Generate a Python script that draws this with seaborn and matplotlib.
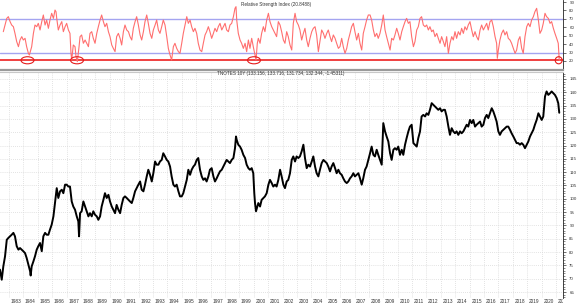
import matplotlib
matplotlib.use("Agg")
import matplotlib.pyplot as plt
from matplotlib.patches import Ellipse
from matplotlib.transforms import ScaledTranslation, Bbox, TransformedBbox
import seaborn as sns
import numpy as np

# ---------------- data ----------------
price_years = [
    1982.38, 1982.50, 1982.61, 1982.73, 1982.85, 1982.96, 1983.08, 1983.19, 1983.31, 1983.42,
    1983.54, 1983.66, 1983.77, 1983.89, 1984.00, 1984.12, 1984.23, 1984.35, 1984.47, 1984.51,
    1984.58, 1984.70, 1984.81, 1984.93, 1985.04, 1985.16, 1985.28, 1985.39, 1985.51, 1985.62,
    1985.74, 1985.85, 1985.97, 1986.09, 1986.20, 1986.32, 1986.43, 1986.55, 1986.67, 1986.78,
    1986.90, 1987.01, 1987.13, 1987.24, 1987.36, 1987.47, 1987.59, 1987.71, 1987.82, 1987.87,
    1987.94, 1988.05, 1988.17, 1988.29, 1988.40, 1988.52, 1988.63, 1988.75, 1988.86, 1988.98,
    1989.10, 1989.21, 1989.33, 1989.44, 1989.56, 1989.67, 1989.79, 1989.91, 1990.02, 1990.14,
    1990.25, 1990.37, 1990.48, 1990.60, 1990.72, 1990.83, 1990.95, 1991.06, 1991.18, 1991.30,
    1991.41, 1991.53, 1991.64, 1991.76, 1991.87, 1991.99, 1992.11, 1992.22, 1992.34, 1992.45,
    1992.57, 1992.68, 1992.80, 1992.92, 1993.03, 1993.15, 1993.26, 1993.38, 1993.49, 1993.61,
    1993.72, 1993.84, 1993.96, 1994.07, 1994.19, 1994.30, 1994.42, 1994.53, 1994.65, 1994.77,
    1994.88, 1995.00, 1995.11, 1995.23, 1995.35, 1995.46, 1995.58, 1995.69, 1995.81, 1995.92,
    1996.04, 1996.15, 1996.27, 1996.39, 1996.50, 1996.62, 1996.73, 1996.85, 1996.96, 1997.08,
    1997.20, 1997.31, 1997.43, 1997.54, 1997.66, 1997.78, 1997.89, 1998.01, 1998.12, 1998.24,
    1998.35, 1998.47, 1998.59, 1998.70, 1998.77, 1998.82, 1998.93, 1999.05, 1999.16, 1999.28,
    1999.40, 1999.51, 1999.63, 1999.74, 1999.86, 1999.97, 2000.04, 2000.09, 2000.16, 2000.32,
    2000.44, 2000.55, 2000.67, 2000.78, 2000.90, 2001.02, 2001.13, 2001.25, 2001.36, 2001.48,
    2001.59, 2001.71, 2001.83, 2001.94, 2002.06, 2002.17, 2002.29, 2002.40, 2002.52, 2002.64,
    2002.75, 2002.87, 2002.98, 2003.10, 2003.21, 2003.33, 2003.45, 2003.56, 2003.68, 2003.79,
    2003.91, 2004.03, 2004.14, 2004.26, 2004.37, 2004.49, 2004.60, 2004.72, 2004.84, 2004.95,
    2005.07, 2005.18, 2005.30, 2005.41, 2005.53, 2005.65, 2005.76, 2005.88, 2005.99, 2006.11,
    2006.22, 2006.34, 2006.46, 2006.57, 2006.69, 2006.80, 2006.92, 2007.03, 2007.15, 2007.27,
    2007.38, 2007.50, 2007.61, 2007.73, 2007.84, 2007.96, 2008.08, 2008.19, 2008.31, 2008.42,
    2008.54, 2008.65, 2008.77, 2008.89, 2009.00, 2009.12, 2009.23, 2009.35, 2009.47, 2009.58,
    2009.70, 2009.81, 2009.93, 2010.04, 2010.16, 2010.28, 2010.39, 2010.51, 2010.62, 2010.74,
    2010.85, 2010.97, 2011.09, 2011.20, 2011.32, 2011.43, 2011.55, 2011.66, 2011.78, 2011.90,
    2012.01, 2012.13, 2012.24, 2012.36, 2012.47, 2012.59, 2012.71, 2012.82, 2012.94, 2013.05,
    2013.17, 2013.28, 2013.40, 2013.52, 2013.63, 2013.75, 2013.86, 2013.98, 2014.09, 2014.21,
    2014.33, 2014.44, 2014.56, 2014.67, 2014.79, 2014.90, 2015.02, 2015.14, 2015.25, 2015.37,
    2015.48, 2015.60, 2015.72, 2015.83, 2015.95, 2016.06, 2016.18, 2016.29, 2016.41, 2016.53,
    2016.64, 2016.76, 2016.87, 2016.99, 2017.10, 2017.22, 2017.34, 2017.45, 2017.57, 2017.68,
    2017.80, 2017.91, 2018.03, 2018.15, 2018.26, 2018.38, 2018.49, 2018.61, 2018.72, 2018.84,
    2018.96, 2019.07, 2019.19, 2019.30, 2019.42, 2019.53, 2019.65, 2019.77, 2019.88, 2020.00,
    2020.11, 2020.23, 2020.34, 2020.46, 2020.58, 2020.69, 2020.81, 2020.92, 2021.04, 2021.15,
    2021.22,
]
price_values = [
    73.4, 69.6, 74.6, 78.4, 84.6, 85.3, 85.9, 86.5, 87.2, 85.9,
    82.2, 80.9, 81.5, 80.9, 80.3, 79.6, 77.8, 75.3, 72.8, 71.2,
    74.6, 76.5, 78.4, 80.9, 82.2, 83.4, 80.3, 85.9, 87.2, 86.5,
    86.5, 88.4, 90.3, 93.4, 98.4, 104.0, 100.3, 102.8, 103.4, 102.1,
    105.3, 105.3, 104.6, 104.6, 99.0, 97.1, 95.9, 93.4, 91.5, 85.9,
    94.6, 95.3, 99.0, 97.1, 95.3, 93.4, 94.6, 93.4, 95.3, 94.0,
    93.4, 92.1, 93.4, 97.1, 99.6, 102.1, 100.3, 101.5, 99.0, 97.1,
    95.9, 94.6, 97.7, 95.9, 94.6, 97.7, 100.3, 100.9, 100.3, 99.6,
    99.0, 98.4, 100.3, 102.8, 104.0, 105.3, 106.5, 103.4, 102.8, 105.3,
    108.4, 110.9, 109.0, 106.5, 109.6, 114.0, 112.8, 112.8, 114.0, 114.6,
    117.1, 115.9, 114.6, 114.0, 112.1, 108.4, 105.3, 104.6, 105.3, 102.8,
    100.9, 100.9, 102.1, 104.6, 107.1, 110.9, 109.0, 110.9, 112.1, 112.8,
    114.6, 115.3, 110.9, 108.4, 107.1, 107.7, 106.5, 108.4, 110.9, 111.5,
    108.4, 106.5, 107.7, 109.0, 110.3, 110.9, 112.1, 113.4, 114.6, 114.0,
    113.4, 114.6, 115.3, 119.0, 123.4, 122.1, 120.3, 119.6, 118.4, 116.5,
    115.3, 112.8, 111.5, 110.9, 111.5, 109.6, 102.1, 98.4, 95.3, 98.4,
    97.1, 99.6, 100.3, 100.9, 102.1, 105.3, 107.1, 105.9, 104.6, 105.3,
    104.6, 107.1, 110.9, 108.4, 105.3, 104.0, 106.5, 107.1, 109.6, 114.6,
    115.9, 114.0, 115.9, 115.3, 115.9, 117.8, 120.3, 115.3, 111.5, 112.8,
    112.1, 114.0, 115.9, 112.1, 109.6, 108.4, 110.9, 113.4, 114.6, 114.0,
    113.4, 112.1, 110.3, 112.1, 113.4, 111.5, 109.6, 110.9, 109.6, 109.0,
    107.7, 106.5, 105.9, 106.5, 107.7, 108.4, 109.6, 108.4, 109.0, 109.6,
    107.7, 105.3, 107.7, 110.9, 112.1, 114.6, 117.1, 119.6, 116.5, 115.9,
    118.4, 116.5, 114.6, 112.8, 128.4, 125.3, 123.4, 121.5, 117.1, 114.6,
    118.4, 119.0, 118.4, 119.6, 116.5, 118.4, 116.5, 120.3, 122.8, 125.3,
    127.1, 127.8, 120.9, 120.3, 119.6, 122.8, 125.3, 130.9, 131.5, 130.9,
    132.1, 131.5, 133.4, 135.9, 135.3, 134.6, 134.0, 133.4, 134.0, 132.8,
    133.4, 133.4, 130.9, 127.1, 124.0, 126.5, 125.3, 124.6, 125.3, 124.0,
    125.3, 124.6, 125.3, 126.5, 127.8, 127.1, 129.6, 128.4, 129.6, 127.1,
    127.8, 128.4, 129.0, 127.1, 127.8, 130.3, 131.5, 130.3, 132.1, 134.0,
    132.8, 130.9, 129.0, 125.3, 124.0, 125.3, 125.9, 126.5, 127.1, 127.1,
    125.9, 124.6, 123.4, 122.1, 120.9, 120.9, 120.3, 120.9, 120.3, 119.0,
    120.3, 121.5, 123.4, 124.6, 125.9, 127.8, 129.6, 132.1, 130.9, 129.6,
    130.9, 138.4, 140.3, 139.0, 139.6, 140.3, 139.6, 139.0, 137.8, 135.9,
    132.3,
]

rsi_years = [
    1982.61, 1982.73, 1982.85, 1982.96, 1983.08, 1983.19, 1983.31, 1983.42, 1983.54, 1983.66,
    1983.77, 1983.89, 1984.00, 1984.12, 1984.23, 1984.35, 1984.42, 1984.58, 1984.70, 1984.81,
    1984.93, 1985.04, 1985.16, 1985.28, 1985.39, 1985.51, 1985.62, 1985.74, 1985.85, 1985.97,
    1986.09, 1986.20, 1986.27, 1986.32, 1986.43, 1986.55, 1986.67, 1986.78, 1986.90, 1987.01,
    1987.13, 1987.24, 1987.31, 1987.36, 1987.47, 1987.59, 1987.66, 1987.75, 1987.87, 1987.94,
    1988.05, 1988.17, 1988.29, 1988.40, 1988.52, 1988.63, 1988.75, 1988.86, 1988.98, 1989.10,
    1989.21, 1989.33, 1989.44, 1989.56, 1989.67, 1989.79, 1989.91, 1990.02, 1990.14, 1990.25,
    1990.37, 1990.48, 1990.60, 1990.72, 1990.83, 1990.95, 1991.06, 1991.18, 1991.30, 1991.41,
    1991.53, 1991.64, 1991.76, 1991.87, 1991.99, 1992.11, 1992.22, 1992.34, 1992.45, 1992.57,
    1992.68, 1992.80, 1992.92, 1993.03, 1993.15, 1993.26, 1993.38, 1993.49, 1993.61, 1993.72,
    1993.84, 1993.96, 1994.07, 1994.19, 1994.30, 1994.42, 1994.53, 1994.65, 1994.77, 1994.88,
    1995.00, 1995.11, 1995.23, 1995.35, 1995.46, 1995.58, 1995.69, 1995.81, 1995.92, 1996.04,
    1996.15, 1996.27, 1996.39, 1996.50, 1996.62, 1996.73, 1996.85, 1996.96, 1997.08, 1997.20,
    1997.31, 1997.43, 1997.54, 1997.66, 1997.78, 1997.89, 1998.01, 1998.12, 1998.24, 1998.35,
    1998.47, 1998.59, 1998.70, 1998.77, 1998.82, 1998.93, 1999.05, 1999.16, 1999.28, 1999.40,
    1999.51, 1999.63, 1999.74, 1999.86, 1999.97, 2000.09, 2000.16, 2000.25, 2000.32, 2000.44,
    2000.55, 2000.67, 2000.78, 2000.90, 2001.02, 2001.13, 2001.25, 2001.36, 2001.48, 2001.59,
    2001.71, 2001.83, 2001.94, 2002.06, 2002.17, 2002.29, 2002.40, 2002.52, 2002.64, 2002.75,
    2002.87, 2002.98, 2003.10, 2003.21, 2003.33, 2003.45, 2003.56, 2003.68, 2003.79, 2003.91,
    2004.03, 2004.14, 2004.26, 2004.37, 2004.49, 2004.60, 2004.72, 2004.84, 2004.95, 2005.07,
    2005.18, 2005.30, 2005.41, 2005.53, 2005.65, 2005.76, 2005.88, 2005.99, 2006.11, 2006.22,
    2006.34, 2006.46, 2006.57, 2006.69, 2006.80, 2006.92, 2007.03, 2007.15, 2007.27, 2007.38,
    2007.50, 2007.61, 2007.73, 2007.84, 2007.96, 2008.08, 2008.19, 2008.31, 2008.42, 2008.54,
    2008.65, 2008.77, 2008.89, 2009.00, 2009.12, 2009.23, 2009.35, 2009.47, 2009.58, 2009.70,
    2009.81, 2009.93, 2010.04, 2010.16, 2010.28, 2010.39, 2010.51, 2010.62, 2010.74, 2010.85,
    2010.97, 2011.09, 2011.20, 2011.32, 2011.43, 2011.55, 2011.66, 2011.78, 2011.90, 2012.01,
    2012.13, 2012.24, 2012.36, 2012.47, 2012.59, 2012.71, 2012.82, 2012.94, 2013.05, 2013.17,
    2013.28, 2013.40, 2013.52, 2013.63, 2013.75, 2013.86, 2013.98, 2014.09, 2014.21, 2014.33,
    2014.44, 2014.56, 2014.67, 2014.79, 2014.90, 2015.02, 2015.14, 2015.25, 2015.37, 2015.48,
    2015.60, 2015.72, 2015.83, 2015.95, 2016.06, 2016.18, 2016.29, 2016.41, 2016.53, 2016.64,
    2016.76, 2016.87, 2016.92, 2016.99, 2017.10, 2017.22, 2017.34, 2017.45, 2017.57, 2017.68,
    2017.80, 2017.91, 2018.03, 2018.15, 2018.26, 2018.38, 2018.49, 2018.61, 2018.72, 2018.84,
    2018.96, 2019.07, 2019.19, 2019.30, 2019.42, 2019.53, 2019.65, 2019.77, 2019.88, 2020.00,
    2020.11, 2020.23, 2020.34, 2020.46, 2020.58, 2020.69, 2020.81, 2020.92, 2021.04, 2021.15,
    2021.22,
]
rsi_values = [
    54.8, 62.7, 70.6, 72.6, 66.7, 62.7, 60.7, 52.8, 43.0, 37.0,
    44.9, 48.9, 44.9, 46.9, 37.0, 29.1, 27.1, 37.0, 52.8, 62.7,
    60.7, 64.7, 56.8, 66.7, 74.6, 62.7, 68.6, 58.8, 68.6, 76.6,
    70.6, 80.5, 78.5, 70.6, 56.8, 62.7, 66.7, 54.8, 60.7, 64.7,
    56.8, 52.8, 29.1, 21.2, 39.0, 37.0, 25.2, 19.2, 37.0, 48.9,
    50.9, 41.0, 44.9, 41.0, 37.0, 52.8, 54.8, 46.9, 41.0, 52.8,
    60.7, 68.6, 74.6, 66.7, 60.7, 64.7, 54.8, 48.9, 39.0, 35.0,
    31.1, 48.9, 52.8, 46.9, 39.0, 54.8, 62.7, 56.8, 54.8, 48.9,
    44.9, 58.8, 66.7, 72.6, 62.7, 50.9, 44.9, 54.8, 66.7, 74.6,
    64.7, 52.8, 46.9, 56.8, 62.7, 68.6, 56.8, 52.8, 60.7, 68.6,
    62.7, 48.9, 35.0, 27.1, 21.2, 37.0, 41.0, 35.0, 31.1, 29.1,
    41.0, 52.8, 62.7, 72.6, 64.7, 68.6, 60.7, 54.8, 58.8, 52.8,
    41.0, 33.0, 31.1, 41.0, 50.9, 54.8, 60.7, 54.8, 46.9, 52.8,
    58.8, 54.8, 60.7, 64.7, 56.8, 60.7, 64.7, 56.8, 54.8, 62.7,
    64.7, 72.6, 82.5, 84.5, 68.6, 52.8, 44.9, 41.0, 35.0, 41.0,
    31.1, 44.9, 35.0, 46.9, 37.0, 27.1, 21.2, 41.0, 46.9, 41.0,
    52.8, 60.7, 54.8, 68.6, 76.6, 66.7, 60.7, 56.8, 52.8, 48.9,
    66.7, 62.7, 54.8, 44.9, 41.0, 54.8, 48.9, 39.0, 33.0, 64.7,
    76.6, 66.7, 62.7, 56.8, 44.9, 52.8, 58.8, 44.9, 37.0, 46.9,
    54.8, 58.8, 60.7, 50.9, 31.1, 43.0, 56.8, 52.8, 46.9, 52.8,
    56.8, 48.9, 43.0, 50.9, 46.9, 41.0, 35.0, 37.0, 46.9, 37.0,
    29.1, 35.0, 44.9, 52.8, 60.7, 64.7, 54.8, 44.9, 52.8, 41.0,
    33.0, 52.8, 60.7, 68.6, 74.6, 74.6, 68.6, 56.8, 48.9, 52.8,
    46.9, 52.8, 62.7, 74.6, 56.8, 48.9, 41.0, 33.0, 46.9, 44.9,
    50.9, 58.8, 52.8, 44.9, 54.8, 60.7, 66.7, 70.6, 64.7, 66.7,
    48.9, 37.0, 43.0, 56.8, 60.7, 70.6, 72.6, 62.7, 60.7, 62.7,
    56.8, 60.7, 54.8, 56.8, 48.9, 52.8, 46.9, 41.0, 48.9, 43.0,
    37.0, 48.9, 29.1, 41.0, 48.9, 44.9, 54.8, 46.9, 54.8, 50.9,
    58.8, 52.8, 60.7, 56.8, 62.7, 66.7, 56.8, 48.9, 54.8, 48.9,
    44.9, 56.8, 62.7, 56.8, 60.7, 64.7, 56.8, 66.7, 68.6, 60.7,
    48.9, 41.0, 23.2, 33.0, 44.9, 52.8, 56.8, 50.9, 54.8, 46.9,
    44.9, 41.0, 35.0, 29.1, 33.0, 44.9, 48.9, 35.0, 29.1, 48.9,
    60.7, 64.7, 60.7, 68.6, 72.6, 78.5, 82.5, 68.6, 52.8, 56.8,
    64.7, 76.6, 72.6, 70.6, 64.7, 66.7, 58.8, 52.8, 46.9, 41.0,
    20.8,
]

rsi_levels = [70, 30]
rsi_current = 20.8488
circle_years = [1984.29, 1987.73, 2000.02, 2021.18]
circle_widths = [0.9, 0.9, 0.9, 0.48]

year_ticks = list(range(1983, 2022))
price_ticks = list(range(65, 150, 5))
rsi_ticks = list(range(20, 100, 10))

rsi_title = "Relative Strength Index (20.8488)"
price_title = "TNOTES 10Y (133.156, 133.716, 131.734, 132.344, -1.45311)"

# ---------------- figure ----------------
sns.set_style("white")
plt.rcParams["font.family"] = ["Liberation Sans", "DejaVu Sans"]

W, H = 580, 307
fig = plt.figure(figsize=(W / 100, H / 100), dpi=100)
fig.patch.set_facecolor("white")

ax_r = fig.add_axes([0, 1 - 70 / H, 563 / W, 70 / H])
ax_p = fig.add_axes([0, 1 - 298 / H, 563 / W, 226 / H])

xlim = (1982.38, 2021.48)

# ---- RSI panel ----
for lv in rsi_levels:
    ax_r.axhline(lv, color="#a4a4f0", lw=1.0, zorder=1)
ax_r.axhline(rsi_current, color="#ee2020", lw=1.2, zorder=1)
sns.lineplot(x=rsi_years, y=rsi_values, ax=ax_r, color="#ff6f6f", lw=0.8,
             estimator=None, sort=False, zorder=3)
for cy, cw in zip(circle_years, circle_widths):
    ax_r.add_patch(Ellipse((cy, rsi_current), cw, 8.4, fill=False,
                           edgecolor="#e51c1c", lw=0.8, zorder=4))
ax_r.set_xlim(*xlim)
ax_r.set_ylim(9.3, 92.4)
ax_r.set_xticks([])
ax_r.yaxis.tick_right()
ax_r.set_yticks(rsi_ticks)
ax_r.tick_params(axis="y", labelsize=3.2, length=2.5, width=0.5, pad=2,
                 colors="#333333", direction="out")
ax_r.set_xlabel("")
ax_r.set_ylabel("")
for s in ["left", "top"]:
    ax_r.spines[s].set_visible(False)
ax_r.spines["right"].set_color("#222222")
ax_r.spines["right"].set_linewidth(0.6)
ax_r.spines["bottom"].set_color("#9a9a9a")
ax_r.spines["bottom"].set_linewidth(1.6)

# ---- price panel ----
ax_p.set_xticks(year_ticks)
ax_p.set_yticks(price_ticks)
ax_p.set_yticks(list(range(63, 148)), minor=True)
ax_p.grid(True, which="major", color="#d9d9d9", lw=0.6, ls=(0, (1, 1.5)))
ax_p.set_axisbelow(True)
sns.lineplot(x=price_years, y=price_values, ax=ax_p, color="black", lw=1.4,
             estimator=None, sort=False, zorder=3)
ax_p.set_xlim(*xlim)
ax_p.set_ylim(62.75, 147.6)
ax_p.yaxis.tick_right()
ax_p.tick_params(axis="y", which="major", labelsize=3.2, length=2.5, width=0.5,
                 pad=2, colors="#333333", direction="out")
ax_p.tick_params(axis="y", which="minor", length=1.2, width=0.4, colors="#333333")
ax_p.set_xticklabels([str(y) for y in year_ticks])
ax_p.tick_params(axis="x", labelsize=3.4, length=5, width=0.5, pad=-4.2,
                 colors="#333333", direction="out")
ax_p.set_xlabel("")
ax_p.set_ylabel("")
for s in ["left", "bottom"]:
    ax_p.spines[s].set_visible(False)
ax_p.spines["top"].set_color("#c8c8c8")
ax_p.spines["top"].set_linewidth(0.8)
ax_p.spines["right"].set_color("#222222")
ax_p.spines["right"].set_linewidth(0.6)

clip = TransformedBbox(Bbox([[0, 0], [563 / W, 1]]), fig.transFigure)
offset = ScaledTranslation(1.2 / 72, 0, fig.dpi_scale_trans)
for lab in ax_p.get_xticklabels():
    lab.set_horizontalalignment("left")
    lab.set_verticalalignment("top")
    lab.set_transform(lab.get_transform() + offset)
    lab.set_clip_box(clip)
    lab.set_clip_on(True)

fig.text(276 / W, 1 - 4.2 / H, rsi_title, ha="center", va="center",
         fontsize=3.3, color="#333333")
fig.text(281 / W, 1 - 73.5 / H, price_title, ha="center", va="center",
         fontsize=3.3, color="#333333")

fig.savefig("out.png", dpi=100, facecolor="white")
